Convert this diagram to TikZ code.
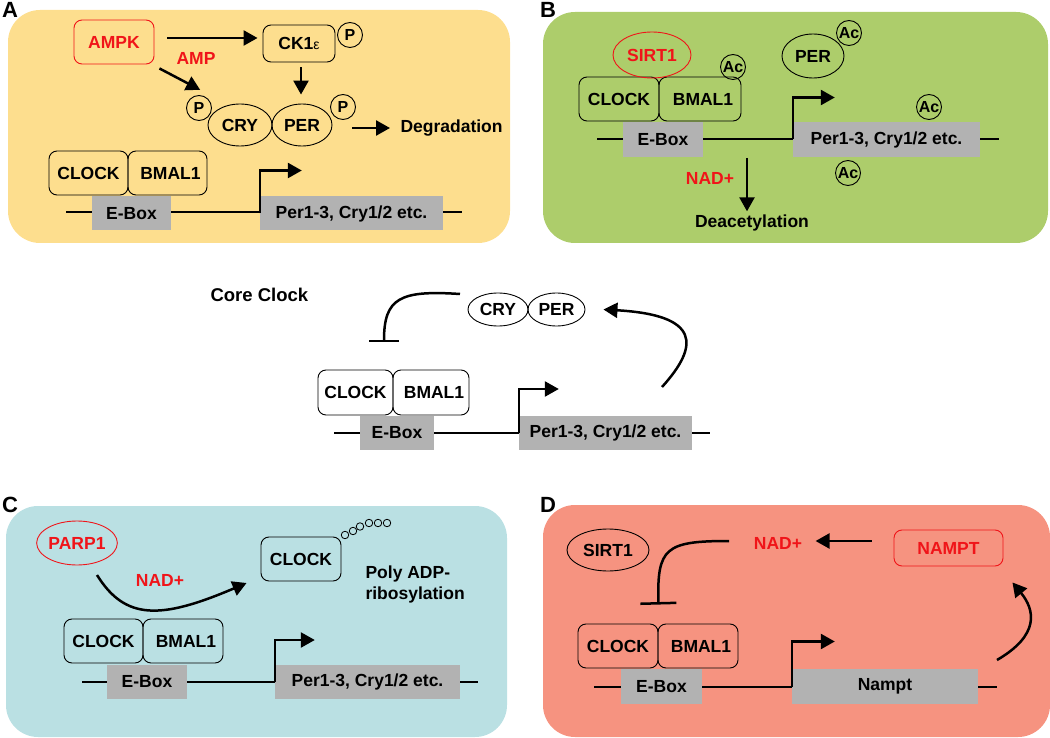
\documentclass[tikz,border=0pt]{standalone}
\usepackage{fontspec}
\setmainfont{Liberation Sans}
\usetikzlibrary{arrows.meta,shapes.geometric}
\definecolor{bgA}{RGB}{253,222,142}
\definecolor{bgB}{RGB}{173,205,107}
\definecolor{bgC}{RGB}{186,224,227}
\definecolor{bgD}{RGB}{246,147,128}
\definecolor{genegray}{RGB}{178,178,178}
\definecolor{myred}{RGB}{240,20,25}
\begin{document}
\begin{tikzpicture}[x=1pt,y=-1pt,
  font=\fontsize{17.5}{21}\selectfont\bfseries,
  panel/.style={rounded corners=32pt},
  plabel/.style={anchor=base west,inner sep=0pt,font=\fontsize{22}{24}\selectfont\bfseries},
  prot/.style={draw,line width=0.9pt,rounded corners=8pt,inner sep=0pt,minimum height=44pt,minimum width=80pt},
  ell/.style={draw,ellipse,line width=0.9pt,inner sep=0pt},
  mod/.style={draw,circle,line width=0.9pt,inner sep=0pt,minimum size=25pt,font=\fontsize{16}{18}\selectfont\bfseries},
  bead/.style={draw,circle,line width=0.8pt,inner sep=0pt,minimum size=7.5pt},
  gene/.style={fill=genegray,inner sep=0pt,minimum height=34pt},
  dna/.style={line width=2.5pt},
  act/.style={line width=2.5pt,-{Triangle[length=14pt,width=15pt]}},
  inh/.style={line width=2.5pt,-{Bar[width=34pt]}},
  redtxt/.style={text=myred},
  redbox/.style={draw=myred,text=myred}]
\useasboundingbox (0,0) rectangle (1050,738);

% ================= Panel A =================
\fill[bgA,panel] (8,10) rectangle (510,243);
\node[plabel] (labA) at (2,18) {A};
\node[prot,redbox,minimum width=80pt,minimum height=44pt] (ampk) at (114,42) {AMPK};
\node[prot,minimum width=72pt,minimum height=37pt] (ck1) at (299,43.5) {CK1{\fontsize{14}{16}\selectfont\mdseries ε}};
\node[mod] (pck) at (350,35) {P};
\node[redtxt] (amp) at (196,58) {AMP};
\node[ell,minimum width=64pt,minimum height=42pt] (cryA) at (240,125) {CRY};
\node[ell,minimum width=60pt,minimum height=42pt] (perA) at (302,125) {PER};
\node[mod] (pL) at (199,108) {P};
\node[mod] (pR) at (343,107) {P};
\node[anchor=west] (degr) at (397,128) {Degradation};
\draw[act] ([shift={(13,-4)}]ampk.east) -- ([shift={(-5,-5.5)}]ck1.west);
\draw[act] ([shift={(5,4)}]ampk.south east) -- ([shift={(-8,-9)}]pL.north east);
\draw[act,shorten <=5pt,shorten >=9pt] ([xshift=2pt]ck1.south) -- ([xshift=2pt]ck1.south |- perA.north);
\draw[act] ([shift={(20,3)}]perA.east) -- ([xshift=-7pt]degr.west);
\coordinate (dA1) at (66,212);
\coordinate (dA2) at (462,212);
\draw[dna] (dA1) -- (dA2);
\node[gene,minimum width=79pt] (ebA) at (131.5,213.5) {E-Box};
\node[gene,minimum width=183pt] (gA) at (351.5,213.5) {Per1-3, Cry1/2 etc.};
\draw[act] (gA.west) -- ++(0,-43) -- ++(42,0);
\node[prot,minimum width=79pt] (clkA) at (88.5,173) {CLOCK};
\node[prot,minimum width=79pt] (bmA) at (167.5,173) {\hspace{6pt}BMAL1};

% ================= Panel B =================
\fill[bgB,panel] (543,12) rectangle (1048,243);
\node[plabel] (labB) at (540,18) {B};
\coordinate (dB1) at (597,139);
\coordinate (dB2) at (999,139);
\draw[dna] (dB1) -- (dB2);
\node[gene,minimum width=80pt,minimum height=35pt] (ebB) at (663,139.5) {E-Box};
\node[gene,minimum width=187pt,minimum height=35pt] (gB) at (886.5,139.5) {Per1-3, Cry1/2 etc.};
\draw[act] (gB.west) -- ++(0,-42) -- ++(42,0);
\node[prot,minimum width=80pt] (clkB) at (619,99) {CLOCK};
\node[prot,minimum width=82pt] (bmB) at (700,99) {\hspace{6pt}BMAL1};
\node[ell,redbox,minimum width=78pt,minimum height=46pt] (sirtB) at (652,55) {SIRT1};
\node[mod] (acB1) at (733,67) {Ac};
\node[ell,minimum width=62pt,minimum height=44pt] (perB) at (813,56) {PER};
\node[mod] (acB2) at (849,33) {Ac};
\node[mod] (acB3) at (929,107) {Ac};
\node[mod] (acB4) at (848,173) {Ac};
\node[redtxt] (nadB) at (710,178) {NAD+};
\node (deac) at (752,223) {Deacetylation};
\coordinate (nadBtop) at (747,158);
\draw[act] (nadBtop) -- (nadBtop |- deac.north);

% ================= Core clock =================
\node[anchor=west,font=\fontsize{18.5}{22}\selectfont\bfseries] (core) at (207,295) {Core Clock};
\node[ell,minimum width=60pt,minimum height=33pt] (cryC) at (498,309.5) {CRY};
\node[ell,minimum width=57pt,minimum height=33pt] (perC) at (556.5,309.5) {PER};
\coordinate (dC1) at (334,433);
\coordinate (dC2) at (710,433);
\draw[dna] (dC1) -- (dC2);
\node[gene,minimum width=74pt] (ebC) at (397,433) {E-Box};
\node[gene,minimum width=173pt] (gC) at (605.5,433) {Per1-3, Cry1/2 etc.};
\draw[act] (gC.west) -- ++(0,-44) -- ++(40,0);
\node[prot,minimum width=75pt,minimum height=45pt] (clkC) at (355.5,392.5) {CLOCK};
\node[prot,minimum width=76pt,minimum height=45pt] (bmC) at (431,392.5) {\hspace{6pt}BMAL1};
\coordinate (inhCs) at (460,294);
\coordinate (inhCe) at (384,342);
\draw[inh,-{Bar[width=30pt]}] (inhCs) .. controls (400,290) and (384,298) .. (inhCe);
\coordinate (actCs) at (662,387);
\draw[act] (actCs) .. controls (700,345) and (700,315) .. ([xshift=18pt]perC.east);

% ================= Panel C =================
\fill[bgC,panel] (6,506) rectangle (507,737);
\node[plabel] (labC) at (2,512) {C};
\node[ell,redbox,minimum width=76pt,minimum height=44pt] (parp) at (77,543) {PARP1};
\node[redtxt] (nadC) at (160,580) {NAD+};
\node[prot,minimum width=80pt,minimum height=44pt] (clkT) at (301,559) {CLOCK};
\node[bead] (b1) at (345,535) {};
\node[bead] (b2) at (353,531) {};
\node[bead] (b3) at (360,526.5) {};
\node[bead] (b4) at (369,523) {};
\node[bead] (b5) at (378,523) {};
\node[bead] (b6) at (387,523) {};
\node[anchor=west,align=left] (poly) at (362,584) {Poly ADP-\\ribosylation};
\coordinate (actC1) at (97,575);
\draw[act] (actC1) .. controls (125,620) and (160,620) .. ([shift={(-14,24)}]clkT.west);
\coordinate (dD1c) at (82,682);
\coordinate (dD2c) at (478,682);
\draw[dna] (dD1c) -- (dD2c);
\node[gene,minimum width=80pt] (ebCc) at (147,682) {E-Box};
\node[gene,minimum width=185pt] (gCc) at (367.5,682) {Per1-3, Cry1/2 etc.};
\draw[act] (gCc.west) -- ++(0,-42) -- ++(40,0);
\node[prot,minimum width=79pt] (clkCc) at (103.5,641) {CLOCK};
\node[prot,minimum width=80pt] (bmCc) at (183,641) {\hspace{6pt}BMAL1};

% ================= Panel D =================
\fill[bgD,panel] (543,505) rectangle (1050,737);
\node[plabel] (labD) at (540,512) {D};
\node[ell,minimum width=82pt,minimum height=42pt] (sirtD) at (608,550) {SIRT1};
\node[redtxt] (nadD) at (778,543) {NAD+};
\node[prot,redbox,minimum width=109pt,minimum height=36pt] (nampt) at (948.5,548) {NAMPT};
\draw[act] ([shift={(-22,-7)}]nampt.west) -- ([shift={(10,-2)}]nadD.east);
\coordinate (dD1) at (594,687);
\coordinate (dD2) at (997,687);
\draw[dna] (dD1) -- (dD2);
\node[gene,minimum width=81pt,minimum height=35pt] (ebD) at (661.5,686.5) {E-Box};
\node[gene,minimum width=186pt,minimum height=35pt] (gD) at (885,686.5) {Nampt};
\draw[act] (gD.west) -- ++(0,-45) -- ++(43,0);
\node[prot,minimum width=80pt] (clkD) at (618,646) {CLOCK};
\node[prot,minimum width=80pt] (bmD) at (698,646) {\hspace{6pt}BMAL1};
\coordinate (inhDs) at (729,541);
\draw[inh,-{Bar[width=36pt]}] (inhDs) .. controls (665,541) and (657,548) .. ([shift={(0,-19)}]clkD.north east);
\coordinate (actDs) at (997,660);
\draw[act] (actDs) .. controls (1040,635) and (1035,610) .. ([shift={(9,16)}]nampt.south east);
\end{tikzpicture}
\end{document}
